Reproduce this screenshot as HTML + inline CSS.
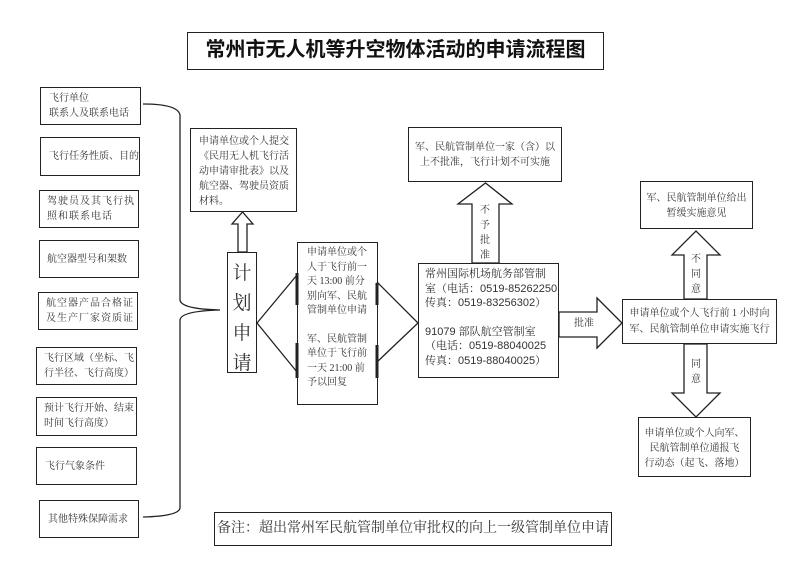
<!DOCTYPE html>
<html><head><meta charset="utf-8"><style>
body{margin:0;width:799px;height:565px;background:#fff;position:relative;overflow:hidden;font-family:"Liberation Serif","Noto Serif CJK SC",serif;color:#333}
.b{position:absolute;border:1.5px solid #222;box-sizing:border-box;background:#fff;font-size:10px;line-height:15px;white-space:nowrap}
.t{position:absolute;font-size:10px;line-height:15px;white-space:nowrap}
</style></head><body>
<svg width="799" height="565" style="position:absolute;left:0;top:0" fill="none" stroke="#222" stroke-width="1.3">
<path d="M143 104 Q178 104 180 115 L180 300 Q181 309 220 310 Q181 311 180 320 L180 508 Q179 516 143 517"/>
<path d="M238 252 L238 224 L232 224 L242.5 212 L253 224 L247 224 L247 252 Z"/>
<path d="M257 323 L297 275 M257 323 L297 372 M377 282 L418 323 L377 362"/>
<path d="M297 273 V305 M297 343 V378 M377 283 V305 M377 345 V378" stroke-width="3"/>
<path d="M472 263 L472 204 L458 204 L485.5 183 L512 204 L499 204 L499 263 Z"/>
<path d="M559 312 L597 312 L597 298 L622 323 L597 348 L597 337 L559 337 Z"/>
<path d="M684 299 L684 255 L672 255 L696 231 L720 255 L707 255 L707 299 Z"/>
<path d="M684 344 L684 393 L672 393 L696 417 L720 393 L707 393 L707 344 Z"/>
</svg>
<div class="b" style="left:187px;top:32px;width:417px;height:38px;font:bold 20px 'Liberation Sans','Noto Sans CJK SC',sans-serif;color:#111;text-align:center;line-height:35px">常州市无人机等升空物体活动的申请流程图</div>
<div class="b" style="left:40px;top:87px;width:101px;height:38px;padding:3px 0 0 8px">飞行单位<br>联系人及联系电话</div>
<div class="b" style="left:40px;top:137px;width:100px;height:39px;padding:11px 0 0 8px">飞行任务性质、目的</div>
<div class="b" style="left:39px;top:190px;width:100px;height:38px;padding:3px 0 0 7px;letter-spacing:1px">驾驶员及其飞行执<br>照和联系电话</div>
<div class="b" style="left:39px;top:240px;width:100px;height:38px;padding:11px 0 0 7px">航空器型号和架数</div>
<div class="b" style="left:38px;top:292px;width:100px;height:38px;padding:3px 0 0 7px;letter-spacing:1px">航空器产品合格证<br>及生产厂家资质证</div>
<div class="b" style="left:36px;top:347px;width:101px;height:38px;padding:3px 0 0 7px">飞行区域（坐标、飞<br>行半径、飞行高度）</div>
<div class="b" style="left:36px;top:397px;width:101px;height:39px;padding:3px 0 0 7px">预计飞行开始、结束<br>时间飞行高度）</div>
<div class="b" style="left:36px;top:447px;width:101px;height:38px;padding:11px 0 0 8px">飞行气象条件</div>
<div class="b" style="left:39px;top:500px;width:100px;height:38px;padding:11px 0 0 8px">其他特殊保障需求</div>
<div class="b" style="left:190px;top:128px;width:107px;height:84px;padding:5px 0 0 8px">申请单位或个人提交<br>《民用无人机飞行活<br>动申请审批表》以及<br>航空器、驾驶员资质<br>材料。</div>
<div class="b" style="left:227px;top:252px;width:30px;height:121px;font-size:19px;line-height:30px;text-align:center;padding-top:6px">计<br>划<br>申<br>请</div>
<div class="b" style="left:297px;top:242px;width:81px;height:163px;padding:3px 0 0 9px;background:none;line-height:14.5px">申请单位或个<br>人于飞行前一<br>天 13:00 前分<br>别向军、民航<br>管制单位申请<div style="height:14px"></div>军、民航管制<br>单位于飞行前<br>一天 21:00 前<br>予以回复</div>
<div class="b" style="left:408px;top:127px;width:154px;height:55px;padding:12px 0 0 0;text-align:center">军、民航管制单位一家（含）以<br>上不批准，飞行计划不可实施</div>
<div class="t" style="left:480px;top:203px">不<br>予<br>批<br>准</div>
<div class="b" style="left:418px;top:263px;width:141px;height:115px;padding:3px 0 0 6px;font-size:11px;line-height:14.5px;font-family:'Liberation Sans','Noto Serif CJK SC',sans-serif">常州国际机场航务部管制<br>室（电话：0519-85262250<br>传真：0519-83256302）<div style="height:14px"></div>91079 部队航空管制室<br>（电话：0519-88040025<br>传真：0519-88040025）</div>
<div class="t" style="left:574px;top:316px">批准</div>
<div class="b" style="left:622px;top:299px;width:155px;height:45px;padding:6px 0 0 0;text-align:center;line-height:16px">申请单位或个人飞行前 1 小时向<br>军、民航管制单位申请实施飞行</div>
<div class="b" style="left:640px;top:181px;width:113px;height:48px;padding:9px 0 0 0;text-align:center">军、民航管制单位给出<br>暂缓实施意见</div>
<div class="t" style="left:691px;top:252px">不<br>同<br>意</div>
<div class="t" style="left:691px;top:357px">同<br>意</div>
<div class="b" style="left:638px;top:417px;width:113px;height:60px;padding:8px 0 0 0;text-align:center">申请单位或个人向军、<br>民航管制单位通报飞<br>行动态（起飞、落地）</div>
<div class="b" style="left:214px;top:512px;width:398px;height:34px;font-size:14px;text-align:center;line-height:31px">备注：超出常州军民航管制单位审批权的向上一级管制单位申请</div>
</body></html>
